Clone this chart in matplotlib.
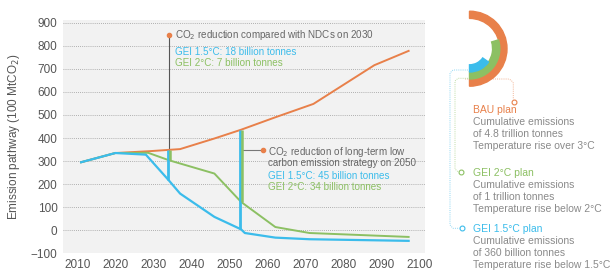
import numpy as np
import matplotlib
matplotlib.use('Agg')
import matplotlib.pyplot as plt
from matplotlib.patches import Wedge

plt.rcParams['font.family'] = ['Liberation Sans', 'DejaVu Sans']

# emission pathways (100 MtCO2)
bau_years = [2011, 2020, 2029, 2037, 2046, 2053, 2062, 2072, 2088, 2097]
bau = [295, 335, 343, 352, 398, 436, 490, 548, 716, 778]
gei2_years = [2011, 2020, 2028.6, 2034, 2046, 2053, 2062, 2071, 2097]
gei2 = [295, 335, 336, 304, 246, 123, 14, -12, -29]
gei15_years = [2011, 2020, 2028, 2034, 2037, 2046, 2053, 2054, 2062, 2071, 2097]
gei15 = [295, 335, 328, 217, 159, 58, 4, -12, -32, -39, -46]

cut_years = [2034, 2053]
xticks = list(range(2010, 2101, 10))
yticks = list(range(-100, 901, 100))

# cumulative emission rings: arc span in degrees
ring_names = ['BAU plan', 'GEI 2°C plan', 'GEI 1.5°C plan']
ring_span = [180, 107, 55]
ring_notes = [['Cumulative emissions', 'of 4.8 trillion tonnes', 'Temperature rise over 3°C'],
              ['Cumulative emissions', 'of 1 trillion tonnes', 'Temperature rise below 2°C'],
              ['Cumulative emissions', 'of 360 billion tonnes', 'Temperature rise below 1.5°C']]

c_bau = '#E8804A'
c_2 = '#8CC063'
c_15 = '#3BBCEB'
c_txt = '#8a8a8a'
c_tick = '#555555'

fig = plt.figure(figsize=(6.15, 2.76), dpi=100)
ax = fig.add_axes([63/615, (276-253.3)/276, 362/615, (253.3-20)/276])
ax.set_facecolor('#F2F2F2')
ax.set_xlim(2006.25, 2101.3)
ax.set_ylim(-100, 912)
for s in ax.spines.values():
    s.set_visible(False)
ax.set_yticks(yticks)
ax.set_xticks(xticks)
ax.tick_params(length=0, labelsize=8.5, colors=c_tick, pad=4)
ax.yaxis.grid(True, color='#9a9a9a', lw=0.6, linestyle=(0, (1, 1.5)))
ax.set_axisbelow(True)
ax.set_ylabel('Emission pathway (100 MtCO$_2$)', fontsize=8.5, color=c_tick)
ax.yaxis.set_label_coords(-(63-22)/362, 0.5)

ax.plot(bau_years, bau, color=c_bau, lw=1.4, zorder=3)
ax.plot(gei2_years, gei2, color=c_2, lw=1.4, zorder=3)
ax.plot(gei15_years, gei15, color=c_15, lw=1.6, zorder=4)

# reduction bars
for yr in cut_years:
    top = np.interp(yr, bau_years, bau)
    ax.vlines(yr - 0.3, np.interp(yr, gei15_years, gei15), top, color=c_15, lw=2, zorder=5)
    ax.vlines(yr + 0.35, np.interp(yr, gei2_years, gei2), top, color=c_2, lw=1.8, zorder=5)

# annotation 1
fs_ann = 7.1
top1 = np.interp(cut_years[0], bau_years, bau)
ax.plot([cut_years[0], cut_years[0]], [top1, 846], color='#555555', lw=0.8, zorder=2)
ax.plot(cut_years[0], 846, 'o', color=c_bau, ms=3, zorder=6)
ax.text(2035.7, 846, 'CO$_2$ reduction compared with NDCs on 2030', fontsize=fs_ann, color='#666666', va='center')
ax.text(2035.7, 774, 'GEI 1.5°C: 18 billion tonnes', fontsize=fs_ann, color=c_15, va='center')
ax.text(2035.7, 726, 'GEI 2°C: 7 billion tonnes', fontsize=fs_ann, color=c_2, va='center')

# annotation 2
ax.plot([cut_years[1] + 0.5, 2058.8], [347, 347], color='#777777', lw=0.8, zorder=2)
ax.plot(2058.8, 347, 'o', color=c_bau, ms=3, zorder=6)
ax.text(2060.2, 340, 'CO$_2$ reduction of long-term low', fontsize=fs_ann, color='#666666', va='center')
ax.text(2060.2, 290, 'carbon emission strategy on 2050', fontsize=fs_ann, color='#666666', va='center')
ax.text(2060.2, 236, 'GEI 1.5°C: 45 billion tonnes', fontsize=fs_ann, color=c_15, va='center')
ax.text(2060.2, 188, 'GEI 2°C: 34 billion tonnes', fontsize=fs_ann, color=c_2, va='center')

# right panel in pixel coordinates
rp = fig.add_axes([0, 0, 1, 1])
rp.set_xlim(0, 615)
rp.set_ylim(276, 0)
rp.axis('off')
rp.patch.set_alpha(0)

dot = (0, (1, 1.2))
rp.plot([465, 508, 511, 513.3, 513.3], [79, 79, 80, 83, 99.5], color='#F2B596', lw=0.7, ls=dot, zorder=1)
rp.plot([470, 458, 455, 455, 458, 459], [78.3, 78.3, 81, 169, 171.7, 171.7], color='#BEDCA6', lw=0.7, ls=dot, zorder=1)
rp.plot([470, 453, 450, 450, 453, 459.5], [70, 70, 73, 225, 228.3, 228.3], color='#8ED6F3', lw=0.7, ls=dot, zorder=1)
rp.plot(513.5, 101.7, 'o', ms=3.5, mfc='white', mec=c_bau, mew=0.8, zorder=3)
rp.plot(461, 171.7, 'o', ms=3.5, mfc='white', mec=c_2, mew=0.8, zorder=3)
rp.plot(461.7, 228.3, 'o', ms=3.5, mfc='white', mec=c_15, mew=0.8, zorder=3)

cx, cy = 469.5, 48.7
radii = [37.5, 30.3, 23.3]
for r, span, col in zip(radii, ring_span, [c_bau, c_2, c_15]):
    # y axis is flipped, so screen "down" is +90 degrees
    rp.add_patch(Wedge((cx, cy), r, 90 - span, 90, width=7.2, color=col, zorder=2))

fs_side = 7.5
label_y = [110, 172.7, 229.3]
for name, notes, y0, col in zip(ring_names, ring_notes, label_y, [c_bau, c_2, c_15]):
    rp.text(473, y0, name, fontsize=fs_side, color=col, va='center')
    for i, line in enumerate(notes):
        rp.text(473, y0 + 12 * (i + 1), line, fontsize=fs_side, color=c_txt, va='center')

plt.savefig('out.png', dpi=100)
